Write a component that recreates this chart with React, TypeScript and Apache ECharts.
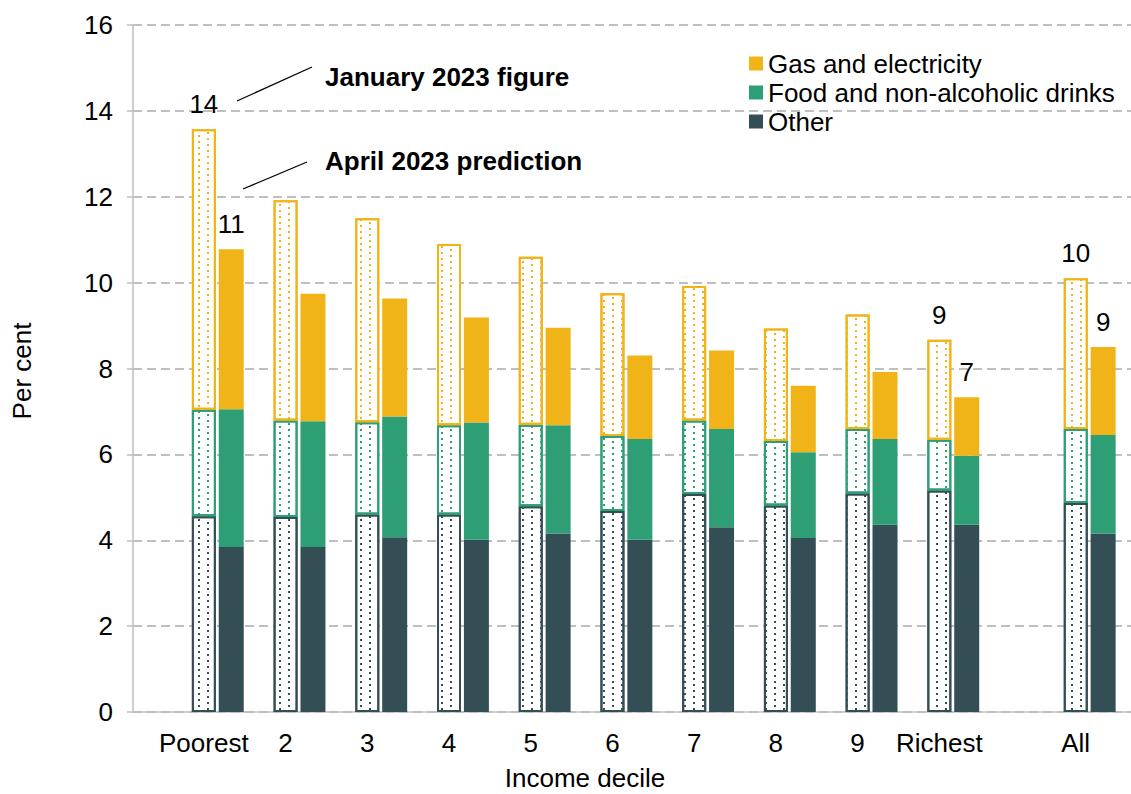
import React, { useEffect, useRef } from "react";
import * as echarts from "echarts";

// Categories (deciles then the overall bar)
const categories = ["Poorest", "2", "3", "4", "5", "6", "7", "8", "9", "Richest", "All"];
const decileCount = 10;
const labelledCategories = ["Poorest", "Richest", "All"];

// Y axis
const yMin = 0;
const yMax = 16;
const yInterval = 2;

// January 2023 figure (per cent)
const janOther = [4.56, 4.54, 4.6, 4.6, 4.79, 4.68, 5.08, 4.81, 5.09, 5.16, 4.87];
const janFood = [2.48, 2.25, 2.15, 2.08, 1.9, 1.75, 1.71, 1.5, 1.5, 1.18, 1.72];
const janGas = [6.53, 5.13, 4.75, 4.22, 3.91, 3.32, 3.13, 2.62, 2.67, 2.33, 3.51];

// April 2023 prediction (per cent)
const aprOther = [3.84, 3.84, 4.07, 4.01, 4.16, 4.01, 4.3, 4.05, 4.36, 4.36, 4.16];
const aprFood = [3.21, 2.93, 2.81, 2.73, 2.52, 2.35, 2.29, 2.0, 2.0, 1.61, 2.29];
const aprGas = [3.73, 2.97, 2.75, 2.45, 2.27, 1.94, 1.83, 1.55, 1.56, 1.36, 2.05];

const segNames = ["Other", "Food and non-alcoholic drinks", "Gas and electricity"];
const legendOrder = ["Gas and electricity", "Food and non-alcoholic drinks", "Other"];

const COLORS: Record<string, string> = {
  "Gas and electricity": "#F0B419",
  "Food and non-alcoholic drinks": "#2E9E75",
  Other: "#334F55",
};

const FONT = "'Liberation Sans', Arial, Helvetica, sans-serif";
const TEXT = "#000000";
const AXIS_GREY = "#bfbfbf";

function total(a: number[], b: number[], c: number[], i: number) {
  const t = Math.round((a[i] + b[i] + c[i]) * 100) / 100;
  return Math.round(t);
}

function buildSeries(axisIdx: number, start: number, end: number) {
  const cats = categories.slice(start, end);
  const janSets = [janOther, janFood, janGas];
  const aprSets = [aprOther, aprFood, aprGas];
  const out: any[] = [];
  // phantom stack keeps the January bar centred on the category
  out.push({
    type: "bar",
    name: "pad",
    xAxisIndex: axisIdx,
    yAxisIndex: axisIdx,
    stack: "pad" + axisIdx,
    barWidth: 25,
    barGap: "12%",
    silent: true,
    data: cats.map(() => 0),
    itemStyle: { color: "rgba(0,0,0,0)" },
  });
  segNames.forEach((seg, k) => {
    const color = COLORS[seg];
    out.push({
      type: "bar",
      name: seg + " (January 2023)",
      xAxisIndex: axisIdx,
      yAxisIndex: axisIdx,
      stack: "jan" + axisIdx,
      barWidth: 24,
      barGap: "12%",
      data: janSets[k].slice(start, end),
      itemStyle: {
        color: "#ffffff",
        borderColor: color,
        borderWidth: 2,
        decal: {
          symbol: "rect",
          symbolSize: 1,
          color: color,
          dashArrayX: [
            [2, 16],
            [0, 9, 2, 7],
          ],
          dashArrayY: [2, 1],
        },
      },
      label:
        k === 2
          ? {
              show: true,
              position: "top",
              distance: 12,
              fontSize: 26,
              fontFamily: FONT,
              color: TEXT,
              formatter: (p: any) => {
                const i = categories.indexOf(p.name);
                return labelledCategories.includes(p.name)
                  ? String(total(janOther, janFood, janGas, i))
                  : "";
              },
            }
          : { show: false },
    });
  });
  segNames.forEach((seg, k) => {
    const color = COLORS[seg];
    out.push({
      type: "bar",
      name: seg,
      xAxisIndex: axisIdx,
      yAxisIndex: axisIdx,
      stack: "apr" + axisIdx,
      barWidth: 25,
      barGap: "12%",
      data: aprSets[k].slice(start, end),
      itemStyle: { color },
      label:
        k === 2
          ? {
              show: true,
              position: "top",
              distance: 12,
              fontSize: 26,
              fontFamily: FONT,
              color: TEXT,
              formatter: (p: any) => {
                const i = categories.indexOf(p.name);
                return labelledCategories.includes(p.name)
                  ? String(total(aprOther, aprFood, aprGas, i))
                  : "";
              },
            }
          : { show: false },
    });
  });
  return out;
}

export default function App() {
  const ref = useRef<HTMLDivElement>(null);

  useEffect(() => {
    if (!ref.current) return;
    const chart = echarts.init(ref.current, null, { renderer: "svg" });

    const top = 25;
    const bottom = 82;
    const band = 81.72;

    const hiddenCatAxis = (gridIndex: number, data: string[]) => ({
      type: "category",
      gridIndex,
      data,
      axisLine: { show: false },
      axisTick: { show: false },
      axisLabel: {
        interval: 0,
        hideOverlap: false,
        fontSize: 26,
        fontFamily: FONT,
        color: TEXT,
        margin: 18,
      },
      splitLine: { show: false },
    });
    const hiddenValAxis = (gridIndex: number) => ({
      type: "value",
      gridIndex,
      min: yMin,
      max: yMax,
      interval: yInterval,
      show: false,
    });

    const option: any = {
      animation: false,
      backgroundColor: "#ffffff",
      textStyle: { fontFamily: FONT },
      grid: [
        { left: 133, right: 0, top, bottom },
        { left: 203.8 - band / 2, width: band * decileCount, top, bottom },
        { left: 1075.7 - band / 2, width: band, top, bottom },
      ],
      xAxis: [
        {
          type: "value",
          gridIndex: 0,
          min: 0,
          max: 1,
          axisLine: { show: true, onZero: false, lineStyle: { color: AXIS_GREY, width: 1.5 } },
          axisTick: { show: false },
          axisLabel: { show: false },
          splitLine: { show: false },
        },
        hiddenCatAxis(1, categories.slice(0, decileCount)),
        hiddenCatAxis(2, categories.slice(decileCount)),
      ],
      yAxis: [
        {
          type: "value",
          gridIndex: 0,
          min: yMin,
          max: yMax,
          interval: yInterval,
          axisLine: { show: true, lineStyle: { color: AXIS_GREY, width: 1.5 } },
          axisTick: { show: true, length: 6, lineStyle: { color: AXIS_GREY, width: 1.5 } },
          axisLabel: { fontSize: 26, fontFamily: FONT, color: TEXT, margin: 20 },
          splitLine: {
            show: true,
            lineStyle: { color: AXIS_GREY, width: 2, type: [9, 5] },
          },
        },
        hiddenValAxis(1),
        hiddenValAxis(2),
      ],
      legend: {
        data: legendOrder,
        orient: "vertical",
        left: 749,
        top: 49,
        padding: 0,
        itemWidth: 14,
        itemHeight: 14,
        itemGap: 0,
        icon: "rect",
        selectedMode: false,
        textStyle: { fontSize: 26, fontFamily: FONT, color: TEXT, lineHeight: 29 },
      },
      graphic: [
        {
          type: "line",
          shape: { x1: 237, y1: 101, x2: 312, y2: 67 },
          style: { stroke: "#000", lineWidth: 1.3 },
        },
        {
          type: "line",
          shape: { x1: 243, y1: 189, x2: 307, y2: 162 },
          style: { stroke: "#000", lineWidth: 1.3 },
        },
        {
          type: "text",
          x: 325,
          y: 77,
          style: {
            text: "January 2023 figure",
            fontSize: 26,
            fontWeight: "bold",
            fontFamily: FONT,
            fill: TEXT,
            align: "left",
            verticalAlign: "middle",
          },
        },
        {
          type: "text",
          x: 325,
          y: 161,
          style: {
            text: "April 2023 prediction",
            fontSize: 26,
            fontWeight: "bold",
            fontFamily: FONT,
            fill: TEXT,
            align: "left",
            verticalAlign: "middle",
          },
        },
        {
          type: "text",
          x: 22,
          y: 371,
          rotation: Math.PI / 2,
          style: {
            text: "Per cent",
            fontSize: 26,
            fontFamily: FONT,
            fill: TEXT,
            align: "center",
            verticalAlign: "middle",
          },
        },
        {
          type: "text",
          x: 585,
          y: 778,
          style: {
            text: "Income decile",
            fontSize: 26,
            fontFamily: FONT,
            fill: TEXT,
            align: "center",
            verticalAlign: "middle",
          },
        },
      ],
      series: [...buildSeries(1, 0, decileCount), ...buildSeries(2, decileCount, categories.length)],
    };

    chart.setOption(option);
    return () => chart.dispose();
  }, []);

  return (
    <div
      ref={ref}
      style={{ position: "fixed", left: 0, top: 0, width: 1131, height: 794, background: "#fff" }}
    />
  );
}
